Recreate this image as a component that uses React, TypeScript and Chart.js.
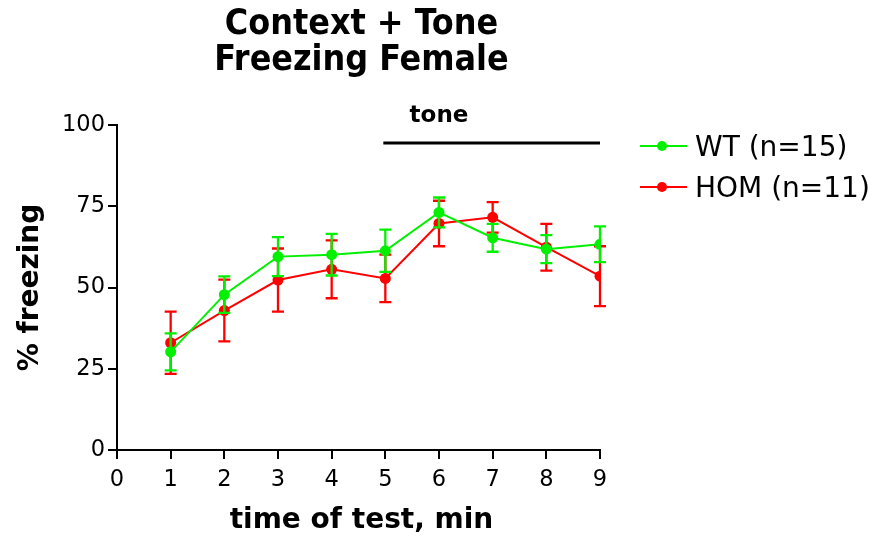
import React, { useEffect, useRef } from "react";
import { Chart, registerables } from "chart.js";

Chart.register(...registerables);

// ---- data ----
const minutes = [1, 2, 3, 4, 5, 6, 7, 8, 9];
const wtMean = [30.2, 47.8, 59.5, 60.1, 61.3, 73.1, 65.3, 61.8, 63.3];
const wtSem = [5.7, 5.6, 6.0, 6.4, 6.5, 4.6, 4.3, 4.3, 5.5];
const homMean = [33.0, 42.9, 52.3, 55.6, 52.8, 69.7, 71.6, 62.4, 53.5];
const homSem = [9.6, 9.5, 9.7, 8.9, 7.3, 7.0, 4.7, 7.2, 9.2];
const seriesLabels = ["WT (n=15)", "HOM (n=11)"];
const titleLines = ["Context + Tone", "Freezing Female"];
const xTitle = "time of test, min";
const yTitle = "% freezing";
const toneLabel = "tone";
const toneStart = 5;
const toneEnd = 9;
const toneLevel = 94.5;
const toneLabelX = 6;

const GREEN = "rgb(0,240,0)";
const RED = "rgb(255,0,0)";
const SANS = "'DejaVu Sans', Verdana, sans-serif";
const SANS_COND = "'DejaVu Sans Condensed', 'DejaVu Sans', sans-serif";

const semByDataset = [wtSem, homSem];
const meanByDataset = [wtMean, homMean];

const errorBarPlugin = {
  id: "errorBars",
  beforeDatasetDraw(chart: any, args: any) {
    const i = args.index;
    const ds = chart.data.datasets[i];
    const meta = chart.getDatasetMeta(i);
    const ys = chart.scales.y;
    const ctx = chart.ctx;
    ctx.save();
    ctx.strokeStyle = ds.borderColor;
    ctx.lineWidth = 2.3;
    meta.data.forEach((pt: any, j: number) => {
      const m = meanByDataset[i][j];
      const s = semByDataset[i][j];
      const yt = ys.getPixelForValue(m + s);
      const yb = ys.getPixelForValue(m - s);
      const x = pt.x;
      ctx.beginPath();
      ctx.moveTo(x, yt);
      ctx.lineTo(x, yb);
      ctx.moveTo(x - 6, yt);
      ctx.lineTo(x + 6, yt);
      ctx.moveTo(x - 6, yb);
      ctx.lineTo(x + 6, yb);
      ctx.stroke();
    });
    ctx.restore();
  },
};

const decorPlugin = {
  id: "decor",
  afterDraw(chart: any) {
    const ctx = chart.ctx;
    const area = chart.chartArea;
    const xs = chart.scales.x;
    const ys = chart.scales.y;
    const cx = (area.left + area.right) / 2 + 3;
    ctx.save();
    ctx.fillStyle = "#000";
    // title
    ctx.font = `bold 35.5px ${SANS_COND}`;
    ctx.textAlign = "center";
    ctx.textBaseline = "alphabetic";
    ctx.fillText(titleLines[0], cx, 34);
    ctx.fillText(titleLines[1], cx, 70);
    // x title
    ctx.font = `bold 28px ${SANS}`;
    ctx.fillText(xTitle, cx, 528);
    // y title
    ctx.save();
    ctx.textBaseline = "middle";
    ctx.translate(31, (area.top + area.bottom) / 2);
    ctx.rotate(-Math.PI / 2);
    ctx.fillText(yTitle, 0, 0);
    ctx.restore();
    // tone bar
    ctx.strokeStyle = "#000";
    ctx.lineWidth = 3;
    const ty = ys.getPixelForValue(toneLevel);
    ctx.beginPath();
    ctx.moveTo(xs.getPixelForValue(toneStart) - 2, ty);
    ctx.lineTo(xs.getPixelForValue(toneEnd), ty);
    ctx.stroke();
    ctx.font = `bold 23px ${SANS}`;
    ctx.textBaseline = "alphabetic";
    ctx.fillText(toneLabel, xs.getPixelForValue(toneLabelX), 122);
    // legend
    const lx = area.right + 40;
    const colors = [GREEN, RED];
    ctx.textAlign = "left";
    ctx.textBaseline = "middle";
    ctx.font = `28px ${SANS}`;
    seriesLabels.forEach((lab, k) => {
      const y = 146 + k * 41;
      ctx.strokeStyle = colors[k];
      ctx.fillStyle = colors[k];
      ctx.lineWidth = 2;
      ctx.beginPath();
      ctx.moveTo(lx, y);
      ctx.lineTo(lx + 47, y);
      ctx.stroke();
      ctx.beginPath();
      ctx.arc(lx + 22, y, 5, 0, Math.PI * 2);
      ctx.fill();
      ctx.fillStyle = "#000";
      ctx.fillText(lab, lx + 55, y + 3);
    });
    ctx.restore();
  },
};

export default function App() {
  const ref = useRef<HTMLCanvasElement | null>(null);
  useEffect(() => {
    if (!ref.current) return;
    const chart = new Chart(ref.current, {
      type: "line",
      data: {
        datasets: [
          {
            label: seriesLabels[0],
            data: minutes.map((m, i) => ({ x: m, y: wtMean[i] })),
            borderColor: GREEN,
            backgroundColor: GREEN,
            borderWidth: 2,
            pointRadius: 5.5,
            pointBorderWidth: 0,
            tension: 0,
          },
          {
            label: seriesLabels[1],
            data: minutes.map((m, i) => ({ x: m, y: homMean[i] })),
            borderColor: RED,
            backgroundColor: RED,
            borderWidth: 2,
            pointRadius: 5.5,
            pointBorderWidth: 0,
            tension: 0,
          },
        ],
      },
      options: {
        animation: false,
        responsive: true,
        maintainAspectRatio: false,
        layout: { padding: { top: 125, right: 288, left: 0, bottom: 0 } },
        plugins: {
          legend: { display: false },
          title: { display: false },
          tooltip: { enabled: false },
        },
        scales: {
          x: {
            type: "linear",
            min: 0,
            max: 9,
            afterFit: (s: any) => {
              s.height = 86;
            },
            ticks: {
              stepSize: 1,
              color: "#000",
              font: { family: SANS, size: 22.5 },
              padding: 8,
            },
            grid: {
              display: true,
              drawOnChartArea: false,
              drawTicks: true,
              tickLength: 9,
              color: "#000",
              lineWidth: 2,
            },
            border: { display: true, color: "#000", width: 2 },
          },
          y: {
            min: 0,
            max: 100,
            afterFit: (s: any) => {
              s.width = 117;
            },
            ticks: {
              stepSize: 25,
              color: "#000",
              font: { family: SANS, size: 22.5 },
              padding: 3,
            },
            grid: {
              display: true,
              drawOnChartArea: false,
              drawTicks: true,
              tickLength: 9,
              color: "#000",
              lineWidth: 2,
            },
            border: { display: true, color: "#000", width: 2 },
          },
        },
      },
      plugins: [errorBarPlugin, decorPlugin],
    } as any);
    return () => chart.destroy();
  }, []);
  return (
    <div style={{ position: "fixed", left: 0, top: 0, width: 888, height: 536, background: "#fff" }}>
      <canvas ref={ref} />
    </div>
  );
}
